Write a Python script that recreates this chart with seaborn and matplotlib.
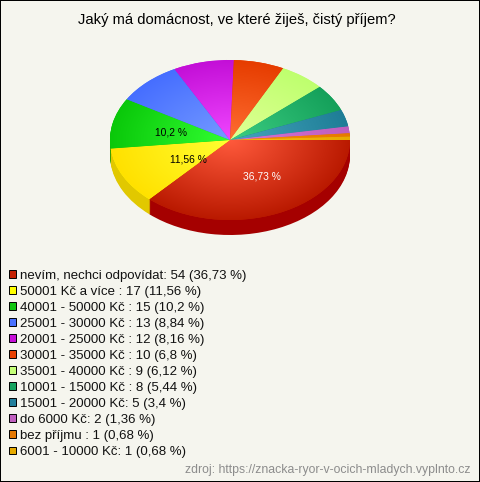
import numpy as np
import matplotlib
matplotlib.use("Agg")
import matplotlib.pyplot as plt
from matplotlib.patches import Patch
import seaborn as sns

title = "Jaký má domácnost, ve které žiješ, čistý příjem?"
source = "zdroj: https://znacka-ryor-v-ocich-mladych.vyplnto.cz"

labels = ["nevím, nechci odpovídat: ", "50001 Kč a více : ", "40001 - 50000 Kč : ",
          "25001 - 30000 Kč : ", "20001 - 25000 Kč : ", "30001 - 35000 Kč : ",
          "35001 - 40000 Kč : ", "10001 - 15000 Kč : ", "15001 - 20000 Kč: ",
          "do 6000 Kč: ", "bez příjmu : ", "6001 - 10000 Kč: "]
counts = [54, 17, 15, 13, 12, 10, 9, 8, 5, 2, 1, 1]
percents = ["36,73 %", "11,56 %", "10,2 %", "8,84 %", "8,16 %", "6,8 %",
            "6,12 %", "5,44 %", "3,4 %", "1,36 %", "0,68 %", "0,68 %"]

# base colour of each slice, also used in the legend
base_colors = ["#c42000", "#ffff00", "#0fc50f", "#4a72ff", "#c710d8", "#e84000",
               "#c4ff78", "#14a25e", "#227f9c", "#c060c0", "#e67800", "#e6aa00"]
# gradient ends, centre to rim
inner_colors = ["#ff5a3c", "#ffff32", "#32ff32", "#759bff", "#f046ff", "#ff6e32",
                "#e1ff96", "#3ccd82", "#46a5be", "#d773d7", "#ff9600", "#ffbe14"]
outer_colors = ["#b91900", "#ffe100", "#0ac80a", "#466eff", "#c30fd7", "#e63c00",
                "#beff6e", "#14a05a", "#1e7d96", "#be5fbe", "#e67800", "#e6aa00"]
side_colors = ["#a50000", "#e1c800", "#0a960a", "#3550c0", "#9000a0", "#a53000",
               "#90c050", "#0a7040", "#155a70", "#904590", "#a85800", "#a87c00"]

bg = "#f5f5ee"
sns.set_style("white")
plt.rcParams["font.family"] = ["Liberation Sans", "DejaVu Sans"]

W, H = 480, 482
cx, cy, rx, ry, depth = 230, 140, 120, 80, 15

fig = plt.figure(figsize=(W / 100, H / 100), dpi=100, facecolor=bg)
ax = fig.add_axes([0, 0, 1, 1])
ax.axis("off")


def set_limits():
    ax.set_aspect("auto")
    ax.set_xlim(-cx / rx, (W - cx) / rx)
    ax.set_ylim(-(H - cy) / ry, cy / ry)


# side wall of the pie, stacked copies going down
for d in range(depth, 0, -1):
    ax.pie(counts, colors=side_colors, startangle=0, counterclock=False,
           center=(0, -d / ry), radius=1, frame=False, wedgeprops={"linewidth": 0})

wedges, _ = ax.pie(counts, colors=base_colors, startangle=0, counterclock=False,
                   center=(0, 0), radius=1, frame=False, wedgeprops={"linewidth": 0})
set_limits()

# radial gradient clipped to each slice
xx, yy = np.meshgrid(np.linspace(-1.02, 1.02, 400), np.linspace(-1.02, 1.02, 400))
rr = np.clip(np.hypot(xx, yy), 0, 1)[..., None]
for wedge, c_in, c_out in zip(wedges, inner_colors, outer_colors):
    c0 = np.array(matplotlib.colors.to_rgb(c_in))
    c1 = np.array(matplotlib.colors.to_rgb(c_out))
    img = c0 * (1 - rr) + c1 * rr
    im = ax.imshow(img, extent=(-1.02, 1.02, -1.02, 1.02), origin="lower",
                   aspect="auto", interpolation="bilinear", zorder=wedge.get_zorder())
    im.set_clip_path(wedge)
set_limits()


def px_text(x, y, s, **kw):
    fig.text(x / W, 1 - y / H, s, va="center", **kw)


px_text(237, 20, title, ha="center", fontsize=10.62, color="black")
px_text(262, 176.5, percents[0], ha="center", fontsize=7.4, color="white")
px_text(188, 159.5, percents[1], ha="center", fontsize=7.4, color="black")
px_text(171, 132.5, percents[2], ha="center", fontsize=7.4, color="black")
px_text(470.5, 470.5, source, ha="right", fontsize=8.8, color="#8c8c8c")

handles = [Patch(facecolor=c, edgecolor="black", linewidth=0.7) for c in base_colors]
texts = [f"{l}{n} ({p})" for l, n, p in zip(labels, counts, percents)]
fig.legend(handles, texts, loc="upper left", bbox_to_anchor=(8.5 / W, 1 - 269.5 / H),
           frameon=False, fontsize=9.58, handlelength=0.53, handleheight=0.53,
           handletextpad=0.3, labelspacing=0.305, borderpad=0, borderaxespad=0,
           labelcolor="#111111")

fig.patch.set_edgecolor("black")
fig.patch.set_linewidth(1.44)
fig.savefig("out.png", dpi=100, facecolor=bg, edgecolor="black")
